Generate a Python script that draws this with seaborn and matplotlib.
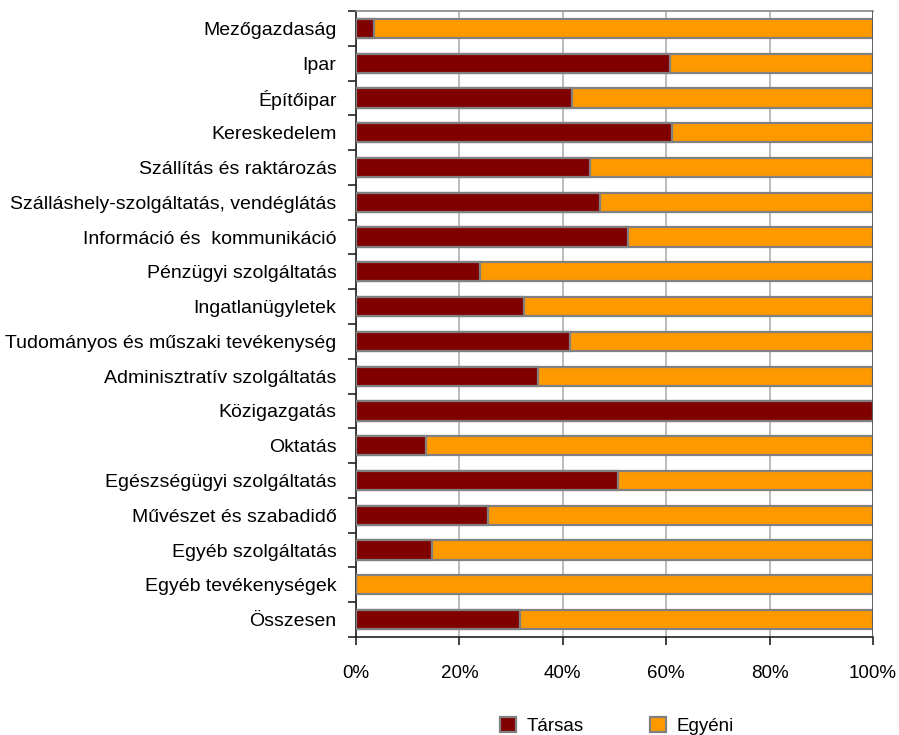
import numpy as np
import matplotlib
matplotlib.use("Agg")
import matplotlib.pyplot as plt
import seaborn as sns
from matplotlib.patches import Patch
from matplotlib.ticker import FixedLocator, PercentFormatter

# -------------------------------
# Data (share of Társas vs Egyéni, %)
# -------------------------------
agazatok = [
    "Mezőgazdaság", "Ipar", "Építőipar", "Kereskedelem",
    "Szállítás és raktározás", "Szálláshely-szolgáltatás, vendéglátás",
    "Információ és  kommunikáció", "Pénzügyi szolgáltatás",
    "Ingatlanügyletek", "Tudományos és műszaki tevékenység",
    "Adminisztratív szolgáltatás", "Közigazgatás", "Oktatás",
    "Egészségügyi szolgáltatás", "Művészet és szabadidő",
    "Egyéb szolgáltatás", "Egyéb tevékenységek", "Összesen",
]
tarsas = [3.4, 60.7, 41.8, 61.2, 45.2, 47.2, 52.7, 23.9, 32.5, 41.4,
          35.2, 100.0, 13.6, 50.7, 25.5, 14.7, 0.0, 31.8]
egyeni = [100 - v for v in tarsas]
osszes = [t + e for t, e in zip(tarsas, egyeni)]

MAROON = "#800000"
ORANGE = "#FF9900"
EDGE = "#808080"

sns.set_style("white")
plt.rcParams["font.family"] = ["Liberation Sans", "DejaVu Sans"]
plt.rcParams["text.color"] = "black"
plt.rcParams["xtick.color"] = "black"
plt.rcParams["ytick.color"] = "black"

fig = plt.figure(figsize=(8.99, 7.35), dpi=100)
ax = fig.add_axes([356/899, 1 - 637/735, (873 - 356)/899, (637 - 11)/735])

# Egyéni drawn as the full bar, Társas on top of it
sns.barplot(x=osszes, y=agazatok, orient="h", color=ORANGE, width=0.55,
            edgecolor=EDGE, linewidth=1.6, saturation=1, ax=ax, zorder=3)
sns.barplot(x=tarsas, y=agazatok, orient="h", color=MAROON, width=0.55,
            edgecolor=EDGE, linewidth=1.6, saturation=1, ax=ax, zorder=4)

ax.set_xlim(0, 100)
ax.set_ylim(len(agazatok) - 0.5, -0.5)
ax.set_xlabel("")
ax.set_ylabel("")

ax.xaxis.set_major_locator(FixedLocator([0, 20, 40, 60, 80, 100]))
ax.xaxis.set_major_formatter(PercentFormatter(decimals=0))
ax.grid(axis="x", color="#B0B0B0", linewidth=1.2, zorder=0)
ax.grid(axis="y", visible=False)
ax.axvline(100, color="#555555", linewidth=1.2, zorder=5)

# category boundary ticks on the left
ax.yaxis.set_minor_locator(FixedLocator(np.arange(-0.5, len(agazatok), 1)))
ax.tick_params(axis="y", which="major", length=0, pad=14, labelsize=14, labelcolor="black")
ax.tick_params(axis="y", which="minor", length=6, width=1.2, color="#222222", direction="out", left=True)
ax.tick_params(axis="x", which="major", length=6, width=1.2, color="#222222", direction="out",
               bottom=True, pad=14, labelsize=13.5, labelcolor="black")

for s in ["left", "bottom"]:
    ax.spines[s].set_color("#222222")
    ax.spines[s].set_linewidth(1.2)
ax.spines["top"].set_color("#888888")
ax.spines["top"].set_linewidth(1.2)
ax.spines["right"].set_visible(False)

handles = [Patch(facecolor=MAROON, edgecolor=EDGE, linewidth=1.6, label="Társas"),
           Patch(facecolor=ORANGE, edgecolor=EDGE, linewidth=1.6, label="Egyéni")]
fig.legend(handles=handles, loc="center", bbox_to_anchor=(617/899, 1 - 726/735), ncol=2,
           frameon=False, fontsize=13.5, handlelength=0.85, handleheight=0.85,
           handletextpad=0.6, columnspacing=3.5, borderpad=0)

plt.savefig("out.png", dpi=100)
